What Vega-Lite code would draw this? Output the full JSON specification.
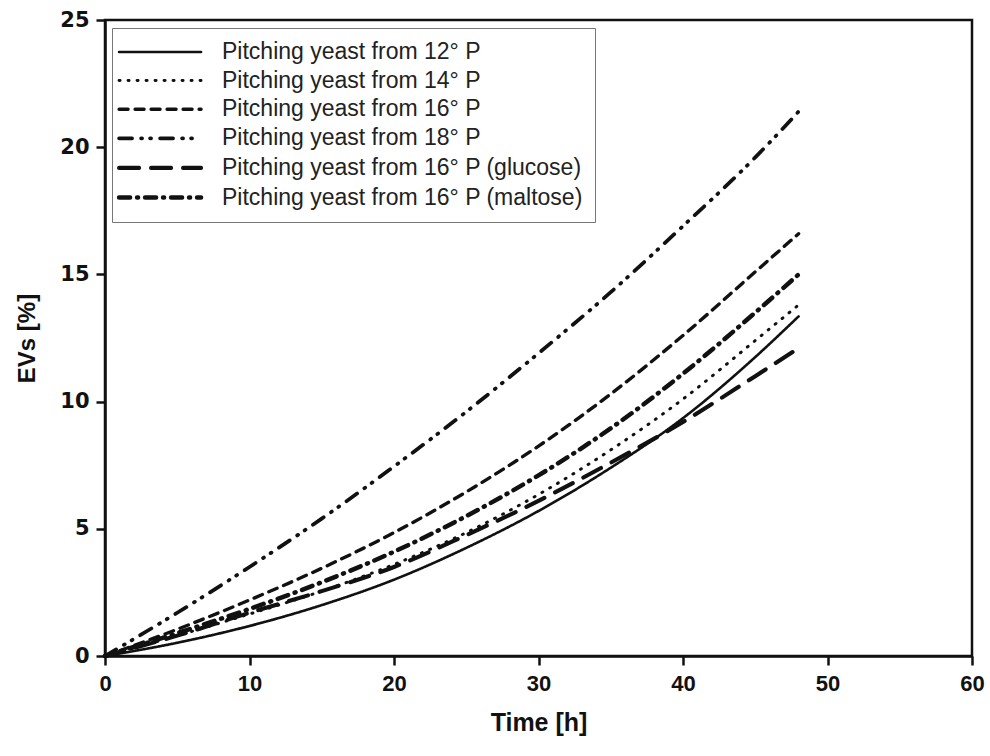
{
  "$schema": "https://vega.github.io/schema/vega-lite/v6.json",
  "width": 867,
  "height": 636,
  "autosize": "none",
  "padding": {"left": 105, "top": 20, "right": 18, "bottom": 100},
  "background": "white",
  "config": {
    "view": {"stroke": "#111", "strokeWidth": 2.5},
    "font": "Liberation Sans"
  },
  "data": {
    "values": [
      {"t": 0, "s": "Pitching yeast from 12° P", "v": 0},
      {"t": 5, "s": "Pitching yeast from 12° P", "v": 0.52},
      {"t": 10, "s": "Pitching yeast from 12° P", "v": 1.18},
      {"t": 15, "s": "Pitching yeast from 12° P", "v": 2.0},
      {"t": 20, "s": "Pitching yeast from 12° P", "v": 3.0},
      {"t": 25, "s": "Pitching yeast from 12° P", "v": 4.25},
      {"t": 30, "s": "Pitching yeast from 12° P", "v": 5.7},
      {"t": 35, "s": "Pitching yeast from 12° P", "v": 7.4},
      {"t": 40, "s": "Pitching yeast from 12° P", "v": 9.35},
      {"t": 45, "s": "Pitching yeast from 12° P", "v": 11.75},
      {"t": 48, "s": "Pitching yeast from 12° P", "v": 13.35},
      {"t": 0, "s": "Pitching yeast from 14° P", "v": 0},
      {"t": 5, "s": "Pitching yeast from 14° P", "v": 0.8},
      {"t": 10, "s": "Pitching yeast from 14° P", "v": 1.65},
      {"t": 15, "s": "Pitching yeast from 14° P", "v": 2.55},
      {"t": 20, "s": "Pitching yeast from 14° P", "v": 3.6},
      {"t": 25, "s": "Pitching yeast from 14° P", "v": 4.85},
      {"t": 30, "s": "Pitching yeast from 14° P", "v": 6.35},
      {"t": 35, "s": "Pitching yeast from 14° P", "v": 8.1},
      {"t": 40, "s": "Pitching yeast from 14° P", "v": 10.1},
      {"t": 45, "s": "Pitching yeast from 14° P", "v": 12.4},
      {"t": 48, "s": "Pitching yeast from 14° P", "v": 13.8},
      {"t": 0, "s": "Pitching yeast from 16° P", "v": 0},
      {"t": 5, "s": "Pitching yeast from 16° P", "v": 1.05},
      {"t": 10, "s": "Pitching yeast from 16° P", "v": 2.2},
      {"t": 15, "s": "Pitching yeast from 16° P", "v": 3.45},
      {"t": 20, "s": "Pitching yeast from 16° P", "v": 4.85},
      {"t": 25, "s": "Pitching yeast from 16° P", "v": 6.45},
      {"t": 30, "s": "Pitching yeast from 16° P", "v": 8.25},
      {"t": 35, "s": "Pitching yeast from 16° P", "v": 10.3},
      {"t": 40, "s": "Pitching yeast from 16° P", "v": 12.6},
      {"t": 45, "s": "Pitching yeast from 16° P", "v": 15.1},
      {"t": 48, "s": "Pitching yeast from 16° P", "v": 16.6},
      {"t": 0, "s": "Pitching yeast from 18° P", "v": 0},
      {"t": 5, "s": "Pitching yeast from 18° P", "v": 1.7},
      {"t": 10, "s": "Pitching yeast from 18° P", "v": 3.5},
      {"t": 15, "s": "Pitching yeast from 18° P", "v": 5.4},
      {"t": 20, "s": "Pitching yeast from 18° P", "v": 7.45},
      {"t": 25, "s": "Pitching yeast from 18° P", "v": 9.6},
      {"t": 30, "s": "Pitching yeast from 18° P", "v": 11.9},
      {"t": 35, "s": "Pitching yeast from 18° P", "v": 14.3},
      {"t": 40, "s": "Pitching yeast from 18° P", "v": 16.9},
      {"t": 45, "s": "Pitching yeast from 18° P", "v": 19.6},
      {"t": 48, "s": "Pitching yeast from 18° P", "v": 21.4},
      {"t": 0, "s": "Pitching yeast from 16° P (glucose)", "v": 0},
      {"t": 5, "s": "Pitching yeast from 16° P (glucose)", "v": 0.8},
      {"t": 10, "s": "Pitching yeast from 16° P (glucose)", "v": 1.7},
      {"t": 15, "s": "Pitching yeast from 16° P (glucose)", "v": 2.55},
      {"t": 20, "s": "Pitching yeast from 16° P (glucose)", "v": 3.5},
      {"t": 25, "s": "Pitching yeast from 16° P (glucose)", "v": 4.75},
      {"t": 30, "s": "Pitching yeast from 16° P (glucose)", "v": 6.1},
      {"t": 35, "s": "Pitching yeast from 16° P (glucose)", "v": 7.6},
      {"t": 40, "s": "Pitching yeast from 16° P (glucose)", "v": 9.2},
      {"t": 45, "s": "Pitching yeast from 16° P (glucose)", "v": 11.0},
      {"t": 48, "s": "Pitching yeast from 16° P (glucose)", "v": 12.1},
      {"t": 0, "s": "Pitching yeast from 16° P (maltose)", "v": 0},
      {"t": 5, "s": "Pitching yeast from 16° P (maltose)", "v": 0.9},
      {"t": 10, "s": "Pitching yeast from 16° P (maltose)", "v": 1.85},
      {"t": 15, "s": "Pitching yeast from 16° P (maltose)", "v": 2.9},
      {"t": 20, "s": "Pitching yeast from 16° P (maltose)", "v": 4.1},
      {"t": 25, "s": "Pitching yeast from 16° P (maltose)", "v": 5.5},
      {"t": 30, "s": "Pitching yeast from 16° P (maltose)", "v": 7.1},
      {"t": 35, "s": "Pitching yeast from 16° P (maltose)", "v": 8.95},
      {"t": 40, "s": "Pitching yeast from 16° P (maltose)", "v": 11.1},
      {"t": 45, "s": "Pitching yeast from 16° P (maltose)", "v": 13.5},
      {"t": 48, "s": "Pitching yeast from 16° P (maltose)", "v": 15.0}
    ]
  },
  "mark": {"type": "line", "interpolate": "monotone", "color": "#111", "strokeCap": "round"},
  "encoding": {
    "x": {
      "field": "t", "type": "quantitative",
      "scale": {"domain": [0, 60], "nice": false, "zero": false},
      "axis": {
        "title": "Time [h]", "values": [0, 10, 20, 30, 40, 50, 60], "grid": false,
        "domainColor": "#111", "domainWidth": 2.5, "tickColor": "#111", "tickWidth": 2.5, "tickSize": 9,
        "labelFont": "Liberation Sans", "labelFontWeight": "bold", "labelFontSize": 22, "labelColor": "#111",
        "labelPadding": 8, "labelFlush": false,
        "titleFont": "Liberation Sans", "titleFontWeight": "bold", "titleFontSize": 25, "titleColor": "#111", "titlePadding": 16
      }
    },
    "y": {
      "field": "v", "type": "quantitative",
      "scale": {"domain": [0, 25], "nice": false},
      "axis": {
        "title": "EVs [%]", "values": [0, 5, 10, 15, 20, 25], "grid": false,
        "domainColor": "#111", "domainWidth": 2.5, "tickColor": "#111", "tickWidth": 2.5, "tickSize": 9,
        "labelFont": "DejaVu Sans", "labelFontWeight": "bold", "labelFontSize": 21, "labelColor": "#111",
        "labelPadding": 7, "labelFlush": false,
        "titleFont": "Liberation Sans", "titleFontWeight": "bold", "titleFontSize": 24, "titleColor": "#111", "titlePadding": 20
      }
    },
    "strokeDash": {
      "field": "s", "type": "nominal",
      "scale": {
        "domain": ["Pitching yeast from 12° P", "Pitching yeast from 14° P", "Pitching yeast from 16° P", "Pitching yeast from 18° P", "Pitching yeast from 16° P (glucose)", "Pitching yeast from 16° P (maltose)"],
        "range": [[1, 0], [1, 8], [9, 7], [13, 9, 1, 8, 1, 9], [20, 12], [11, 7, 1, 7]]
      },
      "legend": {
        "title": null, "orient": "none", "legendX": 7, "legendY": 8,
        "symbolType": "M-1.7,0H6.3", "symbolSize": 420, "symbolStrokeWidth": 3, "symbolStrokeColor": "#111",
        "labelFont": "Liberation Sans", "labelFontSize": 23, "labelColor": "#222", "labelOffset": 73, "labelLimit": 600,
        "rowPadding": 4.6, "padding": 12, "strokeColor": "#777", "fillColor": "white",
        "encode": {"symbols": {"update": {"strokeCap": {"value": "round"}, "strokeWidth": {"scale": "strokeWidth", "field": "value"}}}}
      }
    },
    "strokeWidth": {
      "field": "s", "type": "nominal",
      "scale": {
        "domain": ["Pitching yeast from 12° P", "Pitching yeast from 14° P", "Pitching yeast from 16° P", "Pitching yeast from 18° P", "Pitching yeast from 16° P (glucose)", "Pitching yeast from 16° P (maltose)"],
        "range": [2.6, 4.5, 2.8, 5, 2.8, 3.2]
      },
      "legend": null
    }
  }
}
